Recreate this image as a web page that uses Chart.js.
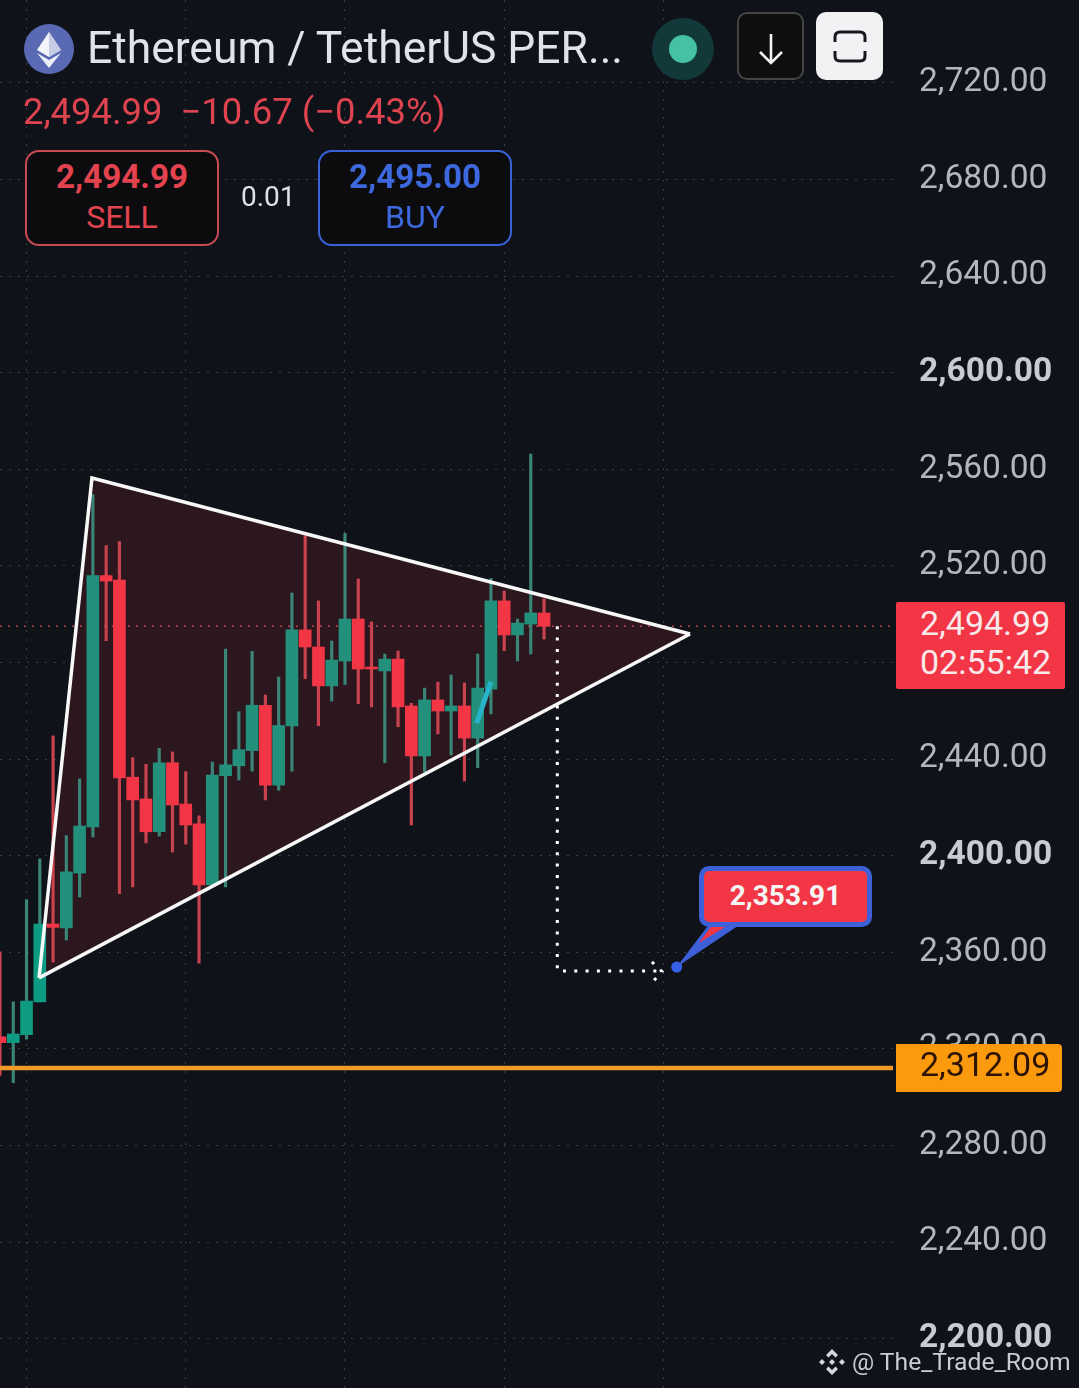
<!DOCTYPE html>
<html lang="en">
<head>
    <meta charset="UTF-8">
    <title>Ethereum / TetherUS PERP</title>
    <script src="https://cdn.jsdelivr.net/npm/chart.js"></script>
    <style>
        html, body { margin: 0; background: #0f1219; overflow: hidden; }
        body { width: 1079px; height: 1388px; position: relative; font-family: Roboto, sans-serif; }
        canvas { position: absolute; left: 0; top: 0; }
        .abs { position: absolute; white-space: nowrap; }
        .title { left: 87px; top: 22px; font-size: 44.4px; line-height: 52px; color: #e1e3e8; }
        .quote { left: 23px; top: 92px; font-size: 36.4px; line-height: 40px; color: #dd444f; white-space: pre; }
        .box { top: 150px; width: 190px; height: 92px; border: 2px solid; border-radius: 14px; background: #0c0c0f; text-align: center; }
        .box b { display: block; font-size: 33.2px; line-height: 36px; margin-top: 7px; }
        .box span { display: block; font-size: 32px; line-height: 36px; margin-top: 4px; }
        .sell { left: 25px; border-color: #c84a53; color: #e2434f; }
        .buy { left: 318px; border-color: #3a62d8; color: #3d68de; }
        .spread { left: 241px; top: 180px; font-size: 28px; line-height: 34px; color: #dfe1e6; }
        .dot { left: 652px; top: 18px; width: 62px; height: 62px; border-radius: 50%; background: #12383a; }
        .dot i { position: absolute; left: 17px; top: 17px; width: 28px; height: 28px; border-radius: 50%; background: #45c1a6; }
        .btn { top: 12px; width: 67px; height: 68px; box-sizing: border-box; border-radius: 10px; }
        .tag { left: 896px; text-align: left; box-sizing: border-box; padding-left: 24px; font-size: 34px; }
        .bubble { left: 699px; top: 866px; width: 173px; height: 61px; box-sizing: border-box; border: 5px solid #3d60d9; border-radius: 10px; background: #f23645; color: #f6f6f6; font-weight: 700; font-size: 28px; line-height: 50px; text-align: center; }
        .mark { left: 852px; top: 1346px; font-size: 24.7px; line-height: 32px; color: #c9ccd2; }
    </style>
</head>
<body>
    <canvas id="chart" width="1079" height="1388"></canvas>

    <svg class="abs" style="left:24px;top:24px" width="50" height="50" viewBox="0 0 50 50">
        <circle cx="25" cy="25" r="25" fill="#5a69b4"/>
        <path d="M25 8 L37 26 L25 33 L13 26 Z" fill="#f4f5fa"/>
        <path d="M25 8 L37 26 L25 33 Z" fill="#c6cbe6"/>
        <path d="M13 29 L25 36 L37 29 L25 44 Z" fill="#eceef8"/>
    </svg>
    <div class="abs title">Ethereum / TetherUS PER...</div>
    <div class="abs quote">2,494.99  −10.67 (−0.43%)</div>
    <div class="abs box sell"><b>2,494.99</b><span>SELL</span></div>
    <div class="abs spread">0.01</div>
    <div class="abs box buy"><b>2,495.00</b><span>BUY</span></div>
    <div class="abs dot"><i></i></div>
    <div class="abs btn" style="left:737px;border:2px solid #444;background:#0e0e0f">
        <svg width="63" height="64" viewBox="0 0 63 64"><path d="M32 20 V48 M21 38 L32 49 L43 38" fill="none" stroke="#f2f2f2" stroke-width="2.6"/></svg>
    </div>
    <div class="abs btn" style="left:816px;background:#f2f2f4">
        <svg width="67" height="68" viewBox="0 0 67 68"><path d="M19 30 V25 Q19 20 24 20 H44 Q49 20 49 25 V30 M19 39 V44 Q19 49 24 49 H44 Q49 49 49 44 V39" fill="none" stroke="#17181c" stroke-width="3"/></svg>
    </div>

    <div class="abs tag" style="top:602px;width:169px;height:87px;background:#f23645;color:#f8e9ea;border-radius:2px;line-height:39px;padding-top:2px">2,494.99<br>02:55:42</div>
    <div class="abs tag" style="top:1044px;width:166px;height:48px;background:#fb9a0c;color:#2c1405;border-radius:0 4px 4px 0;line-height:41px">2,312.09</div>
    <div class="abs bubble">2,353.91</div>

    <svg class="abs" style="left:818px;top:1348px" width="28" height="28" viewBox="0 0 28 28">
        <path d="M14 1 L20 7 L17.5 9.5 L14 6 L10.500 9.5 L8 7 Z M14 27 L8 21 L10.5 18.500 L14 22 L17.500 18.5 L20 21 Z M4 11 L7 14 L4 17 L1 14 Z M24 11 L27 14 L24 17 L21 14 Z M14 11 L17 14 L14 17 L11 14 Z" fill="#d5d7db"/>
    </svg>
    <div class="abs mark">@ The_Trade_Room</div>

    <script>
        const slots = [0, 1, 2, 3, 4, 5, 6, 7, 8, 9, 10, 11, 12, 13, 14, 15, 16, 17, 18, 19, 20, 21, 22, 23, 24, 25, 26, 27, 28, 29, 30, 31, 32, 33, 34, 35, 36, 37, 38, 39, 40, 41];
        const opens = [2325, 2322.6, 2325.9, 2339.5, 2371.7, 2370.1, 2392.8, 2411.9, 2516, 2514.1, 2432.5, 2423.5, 2409.9, 2438.5, 2421.4, 2413.2, 2387.9, 2433.1, 2437.2, 2443.5, 2462.3, 2429.2, 2453.7, 2493.5, 2486.4, 2470.3, 2480.6, 2498, 2478.1, 2476.5, 2481.4, 2462, 2441.3, 2464.5, 2459.9, 2462, 2448.7, 2469, 2505.5, 2491.4, 2495.9, 2500.5];
        const highs = [2360.2, 2339.5, 2381.8, 2398.7, 2449.6, 2408.3, 2431.8, 2549.5, 2528.4, 2530.1, 2440.6, 2437.8, 2444.4, 2443, 2434.8, 2416.5, 2438.8, 2485.5, 2459.6, 2484.6, 2466.5, 2474, 2508.8, 2532.5, 2505.5, 2488.9, 2533.5, 2514.6, 2496.8, 2483.5, 2484.8, 2463.1, 2469.4, 2471.9, 2474.8, 2471.5, 2483.5, 2514.8, 2509.6, 2498, 2566.3, 2506.3];
        const lows = [2309, 2306, 2324, 2339.5, 2356, 2365.1, 2382.9, 2407.8, 2489, 2384.3, 2387.1, 2405.3, 2408.1, 2401.5, 2404.8, 2355.5, 2387.9, 2387.1, 2431.3, 2435, 2423.1, 2427.1, 2435, 2473.3, 2453.8, 2464, 2470.9, 2462.9, 2461.6, 2438.5, 2453.4, 2412.7, 2434.8, 2450.4, 2441.7, 2430.9, 2436.4, 2458.7, 2484.9, 2480.6, 2483.5, 2489.7];
        const closes = [2322.6, 2326.2, 2339.8, 2371.7, 2370.3, 2393.3, 2412.3, 2516, 2513.7, 2432.2, 2423.1, 2409.9, 2438.5, 2421, 2412.7, 2387.9, 2433.4, 2437.6, 2443.9, 2462.3, 2429.2, 2453.9, 2493.5, 2486.4, 2470.3, 2481, 2498, 2477.3, 2477.3, 2481.4, 2461.6, 2441.3, 2464.5, 2459.9, 2462, 2448.7, 2469.4, 2505.5, 2491.4, 2496.3, 2500.5, 2494.99];

        const priceTicks = [2720, 2680, 2640, 2600, 2560, 2520, 2480, 2440, 2400, 2360, 2320, 2280, 2240, 2200];
        const boldTicks = [2600, 2400, 2200];
        const timeTicks = [2, 14, 26, 38, 50];

        const lastPrice = 2494.99;
        const stopPrice = 2312.09;
        const targetSlot = 51;
        const targetPrice = 2353.91;

        // triangle corners as [slot, price]
        const triangleUpper = [[2.94, 2349.4], [6.93, 2556.4], [52, 2491.8]];
        const triangleLower = [[2.94, 2349.4], [52, 2491.8]];
        const projection = [[42, 2494.99], [42, 2352.3], [49.9, 2352.3]];
        const projectionHead = [[49.13, 2356], [49.89, 2352.05], [48.9, 2346]];
        const cyanStroke = [[35.92, 2454.9], [37, 2472]];

        const xMin = 0, xMax = 67.3;
        const yMin = 2179.6, yMax = 2754.3;

        const toPoints = pts => pts.map(p => ({ x: p[0], y: p[1] }));
        const isUp = i => closes[i] >= opens[i];
        const isBold = ctx => !!ctx.tick && boldTicks.includes(ctx.tick.value);
        const lineDs = (pts, extra) => Object.assign({
            type: 'line', data: toPoints(pts), pointRadius: 0, tension: 0, fill: false, borderWidth: 3, order: 1
        }, extra);
        // the chart runs edge to edge, scales must not ask for label room
        const noPadding = s => {
            s.paddingTop = s.paddingBottom = s.paddingLeft = s.paddingRight = 0;
        };

        // little speech bubble tail going from the target point up to the box
        const bubbleTail = {
            id: 'bubbleTail',
            afterDatasetsDraw(chart) {
                const { ctx, scales } = chart;
                const tx = scales.x.getPixelForValue(targetSlot);
                const ty = scales.y.getPixelForValue(targetPrice);
                ctx.save();
                ctx.fillStyle = '#3d60d9';
                ctx.beginPath();
                ctx.moveTo(tx, ty);
                ctx.lineTo(tx + 31, ty - 41);
                ctx.lineTo(tx + 61, ty - 41);
                ctx.closePath();
                ctx.fill();
                ctx.fillStyle = '#f23645';
                ctx.beginPath();
                ctx.moveTo(tx + 22, ty - 24);
                ctx.lineTo(tx + 35, ty - 41);
                ctx.lineTo(tx + 50, ty - 41);
                ctx.closePath();
                ctx.fill();
                ctx.restore();
            }
        };

        new Chart(document.getElementById('chart'), {
            type: 'bar',
            data: {
                datasets: [
                    // triangle fill, under everything
                    lineDs(triangleUpper, { borderWidth: 0, fill: '+1', backgroundColor: '#2d171e', order: 10 }),
                    lineDs(triangleLower, { borderWidth: 0, order: 11 }),
                    lineDs([[xMin, lastPrice], [xMax, lastPrice]], { borderColor: '#b5434c', borderWidth: 1.5, borderDash: [2, 6], order: 9 }),
                    {
                        label: 'wicks',
                        data: slots.map(i => ({ x: i, y: [lows[i], highs[i]] })),
                        backgroundColor: slots.map(i => isUp(i) ? '#3a8578' : '#c9434f'),
                        barThickness: 2.5,
                        grouped: false,
                        order: 6
                    },
                    {
                        label: 'bodies',
                        data: slots.map(i => ({ x: i, y: [opens[i], closes[i]] })),
                        backgroundColor: slots.map(i => isUp(i) ? (i < 4 ? '#0d9c82' : '#23907c') : '#f23645'),
                        barThickness: 12,
                        grouped: false,
                        order: 5
                    },
                    lineDs(triangleUpper, { borderColor: '#f7f7f7', borderWidth: 3.5, order: 2 }),
                    lineDs(triangleLower, { borderColor: '#f7f7f7', borderWidth: 3.5, order: 2 }),
                    lineDs(cyanStroke, { borderColor: '#27b3c9', borderWidth: 5, order: 2 }),
                    lineDs(projection, { borderColor: '#ffffff', borderDash: [3, 8.3], order: 2 }),
                    lineDs(projectionHead, { borderColor: '#ffffff', borderDash: [3, 8.3], order: 2 }),
                    lineDs([[xMin, stopPrice], [xMax, stopPrice]], { borderColor: '#f09a2a', borderWidth: 4.5, order: 3 }),
                    lineDs([[targetSlot, targetPrice]], { pointRadius: 5.5, pointBackgroundColor: '#3561e8', pointBorderWidth: 0, order: 1 })
                ]
            },
            options: {
                responsive: false,
                animation: false,
                devicePixelRatio: 1,
                layout: { padding: 0, autoPadding: false },
                plugins: { legend: { display: false }, tooltip: { enabled: false } },
                scales: {
                    x: {
                        type: 'linear',
                        min: xMin,
                        max: xMax,
                        offset: false,
                        afterBuildTicks: s => { s.ticks = timeTicks.map(v => ({ value: v })); },
                        afterFit: s => { s.height = 0; noPadding(s); },
                        ticks: { display: false },
                        grid: { color: '#3a3d46', offset: false, drawTicks: false },
                        border: { display: false, dash: [2, 7] }
                    },
                    y: {
                        position: 'right',
                        min: yMin,
                        max: yMax,
                        afterBuildTicks: s => { s.ticks = priceTicks.map(v => ({ value: v })); },
                        afterFit: s => { s.width = 186; noPadding(s); },
                        grid: { color: '#3a3d46', drawTicks: false },
                        border: { display: false, dash: [2, 7] },
                        ticks: {
                            autoSkip: false,
                            padding: 26,
                            color: ctx => isBold(ctx) ? '#c9cbd0' : '#b3b6bd',
                            font: ctx => ({
                                family: 'Roboto',
                                size: 33.5,
                                weight: isBold(ctx) ? '700' : '400'
                            }),
                            callback: v => v.toLocaleString('en-US', { minimumFractionDigits: 2, maximumFractionDigits: 2 })
                        }
                    }
                }
            },
            plugins: [bubbleTail]
        });
    </script>
</body>
</html>
